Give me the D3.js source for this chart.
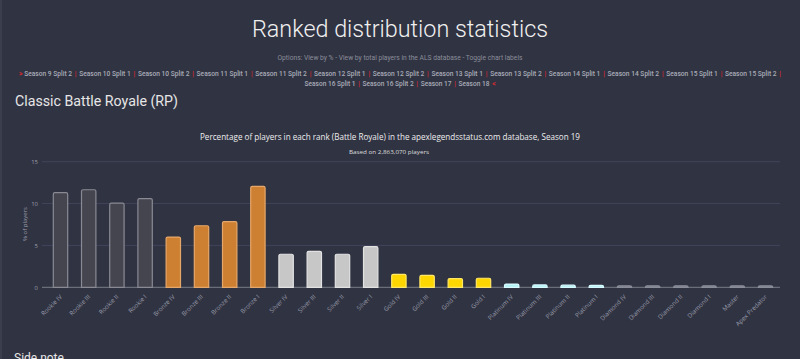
<!DOCTYPE html>
<html><head><meta charset="utf-8">
<script src="https://cdn.jsdelivr.net/npm/d3@7"></script>
<style>
html,body{margin:0;padding:0;background:#303342;overflow:hidden;}
svg{display:block;}
</style></head>
<body>
<svg id="chart" width="800" height="359"></svg>
<script>
const ranks = ["Rookie IV","Rookie III","Rookie II","Rookie I","Bronze IV","Bronze III","Bronze II","Bronze I","Silver IV","Silver III","Silver II","Silver I","Gold IV","Gold III","Gold II","Gold I","Platinum IV","Platinum III","Platinum II","Platinum I","Diamond IV","Diamond III","Diamond II","Diamond I","Master","Apex Predator"];
const percentValues = [11.3,11.65,10.05,10.6,6.0,7.35,7.85,12.05,3.95,4.3,3.95,4.85,1.55,1.42,1.04,1.08,0.38,0.28,0.25,0.24,0.14,0.12,0.12,0.12,0.12,0.1];
const tierOfRank = ["rookie","rookie","rookie","rookie","bronze","bronze","bronze","bronze","silver","silver","silver","silver","gold","gold","gold","gold","plat","plat","plat","plat","dia","dia","dia","dia","master","pred"];
const yTicks = [0,5,10,15];
const seasonLinks = ["Season 9 Split 2","Season 10 Split 1","Season 10 Split 2","Season 11 Split 1","Season 11 Split 2","Season 12 Split 1","Season 12 Split 2","Season 13 Split 1","Season 13 Split 2","Season 14 Split 1","Season 14 Split 2","Season 15 Split 1","Season 15 Split 2","Season 16 Split 1","Season 16 Split 2","Season 17","Season 18"];
</script>
<script>
const svg = d3.select("#chart");
svg.append("rect").attr("x",0).attr("y",0).attr("width",2).attr("height",359).attr("fill","#3b3e4d");

svg.append("text").attr("x",400).attr("y",37).attr("text-anchor","middle")
  .attr("font-family","Roboto").attr("font-weight",300).attr("font-size",24)
  .attr("textLength",296).attr("lengthAdjust","spacingAndGlyphs")
  .attr("fill","#f0f0f0").text("Ranked distribution statistics");

svg.append("text").attr("x",400).attr("y",59.5).attr("text-anchor","middle")
  .attr("font-family","Roboto").attr("font-size",6.8).attr("fill","#8a8d99")
  .attr("textLength",245).attr("lengthAdjust","spacingAndGlyphs")
  .text("Options: View by % - View by total players in the ALS database - Toggle chart labels");

// link rows: each piece its own text, laid out to span target width
function linkLine(y, items, lead, trail, targetWidth){
  const pieces = [];
  if(lead) pieces.push({t:">", red:true, bold:true, gapAfter:2});
  items.forEach((s,i)=>{
    pieces.push({t:s, red:false, gapAfter:3});
    if(i<items.length-1 || trail==="|") pieces.push({t:"|", red:true, gapAfter:3});
  });
  if(trail===">") pieces.push({t:"<", red:true, bold:true, gapAfter:0});
  const grp = svg.append("g");
  const base = 7.4;
  const nodes = pieces.map(p => grp.append("text").attr("y",y)
    .attr("font-family","Roboto").attr("font-weight",p.bold?700:500).attr("font-size",base)
    .attr("fill",p.red?"#e0282e":"#a9acb8").text(p.t));
  const widths = nodes.map(n=>n.node().getComputedTextLength());
  const gaps = pieces.map((p,i)=> i<pieces.length-1 ? p.gapAfter : 0);
  const natural = d3.sum(widths)+d3.sum(gaps);
  const k = targetWidth/natural;
  let cx = 400 - targetWidth/2;
  nodes.forEach((n,i)=>{
    n.attr("font-size",base*k).attr("x",cx);
    cx += (widths[i]+gaps[i])*k;
  });
}
linkLine(76, seasonLinks.slice(0,13), true, "|", 762);
linkLine(86, seasonLinks.slice(13), false, ">", 191);

svg.append("text").attr("x",15).attr("y",106)
  .attr("font-family","Roboto").attr("font-size",14.5).attr("fill","#e6e6e6")
  .attr("textLength",163).attr("lengthAdjust","spacingAndGlyphs")
  .text("Classic Battle Royale (RP)");

svg.append("text").attr("x",390).attr("y",140).attr("text-anchor","middle")
  .attr("font-family","Open Sans").attr("font-size",8.8).attr("fill","#eeeeee")
  .attr("textLength",380).attr("lengthAdjust","spacingAndGlyphs")
  .text("Percentage of players in each rank (Battle Royale) in the apexlegendsstatus.com database, Season 19");
svg.append("text").attr("x",389).attr("y",153.5).attr("text-anchor","middle")
  .attr("font-family","Open Sans").attr("font-size",5.6).attr("fill","#dddddd")
  .attr("textLength",80).attr("lengthAdjust","spacingAndGlyphs")
  .text("Based on 2,863,070 players");

const data = ranks.map((r,i)=>({rank:r, v:percentValues[i], tier:tierOfRank[i]}));

const x = d3.scaleBand().domain(data.map(d=>d.rank)).range([46.4,779.6]).paddingInner(0.49).paddingOuter(0.245);
const y = d3.scaleLinear().domain([0,15]).range([287.3,161.7]);

const g = svg.append("g");
g.selectAll("line.grid").data(yTicks).join("line").attr("class","grid")
  .attr("x1",42).attr("x2",780).attr("y1",d=>y(d)).attr("y2",d=>y(d))
  .attr("stroke",d=>d===0?"#7a7d88":"#41445a").attr("stroke-width",1);
g.selectAll("text.yt").data(yTicks).join("text").attr("class","yt")
  .attr("x",38).attr("y",d=>y(d)+2.5).attr("text-anchor","end")
  .attr("font-family","Open Sans").attr("font-size",6).attr("fill","#9a9dab").text(d=>d);
svg.append("text").attr("transform","translate(27,224) rotate(-90)").attr("text-anchor","middle")
  .attr("font-family","Open Sans").attr("font-size",6).attr("fill","#9a9dab").text("% of players");

const fills = {rookie:"#45454f",bronze:"#cd7f32",silver:"#c7c7c7",gold:"#ffd700",plat:"#b3f2f7",dia:"#6d7080",master:"#6d7080",pred:"#6d7080"};
const strokes = {rookie:"#8a8a94",bronze:"#e6a86a",silver:"#e2e2e2",gold:"#ffe866",plat:"#d8fbff",dia:"#8a8d99",master:"#8a8d99",pred:"#8a8d99"};
g.selectAll("path.bar").data(data).join("path").attr("class","bar")
  .attr("d",d=>{
    const x0=x(d.rank), w=x.bandwidth(), y0=y(0), y1=Math.min(y(d.v), y0-1.5), r=1.5;
    return `M${x0},${y0}V${y1+r}Q${x0},${y1} ${x0+r},${y1}H${x0+w-r}Q${x0+w},${y1} ${x0+w},${y1+r}V${y0}Z`;
  })
  .attr("fill",d=>fills[d.tier]).attr("stroke",d=>strokes[d.tier]).attr("stroke-width",1.2);

g.selectAll("text.xl").data(data).join("text").attr("class","xl")
  .attr("transform",d=>`translate(${x(d.rank)+x.bandwidth()/2+2},${y(0)+10}) rotate(-45)`)
  .attr("text-anchor","end").attr("font-family","Open Sans").attr("font-size",6.2).attr("fill","#9a9dab")
  .text(d=>d.rank);

svg.append("text").attr("x",14).attr("y",362)
  .attr("font-family","Roboto").attr("font-size",12).attr("fill","#e6e6e6").text("Side note");
</script>
</body></html>
